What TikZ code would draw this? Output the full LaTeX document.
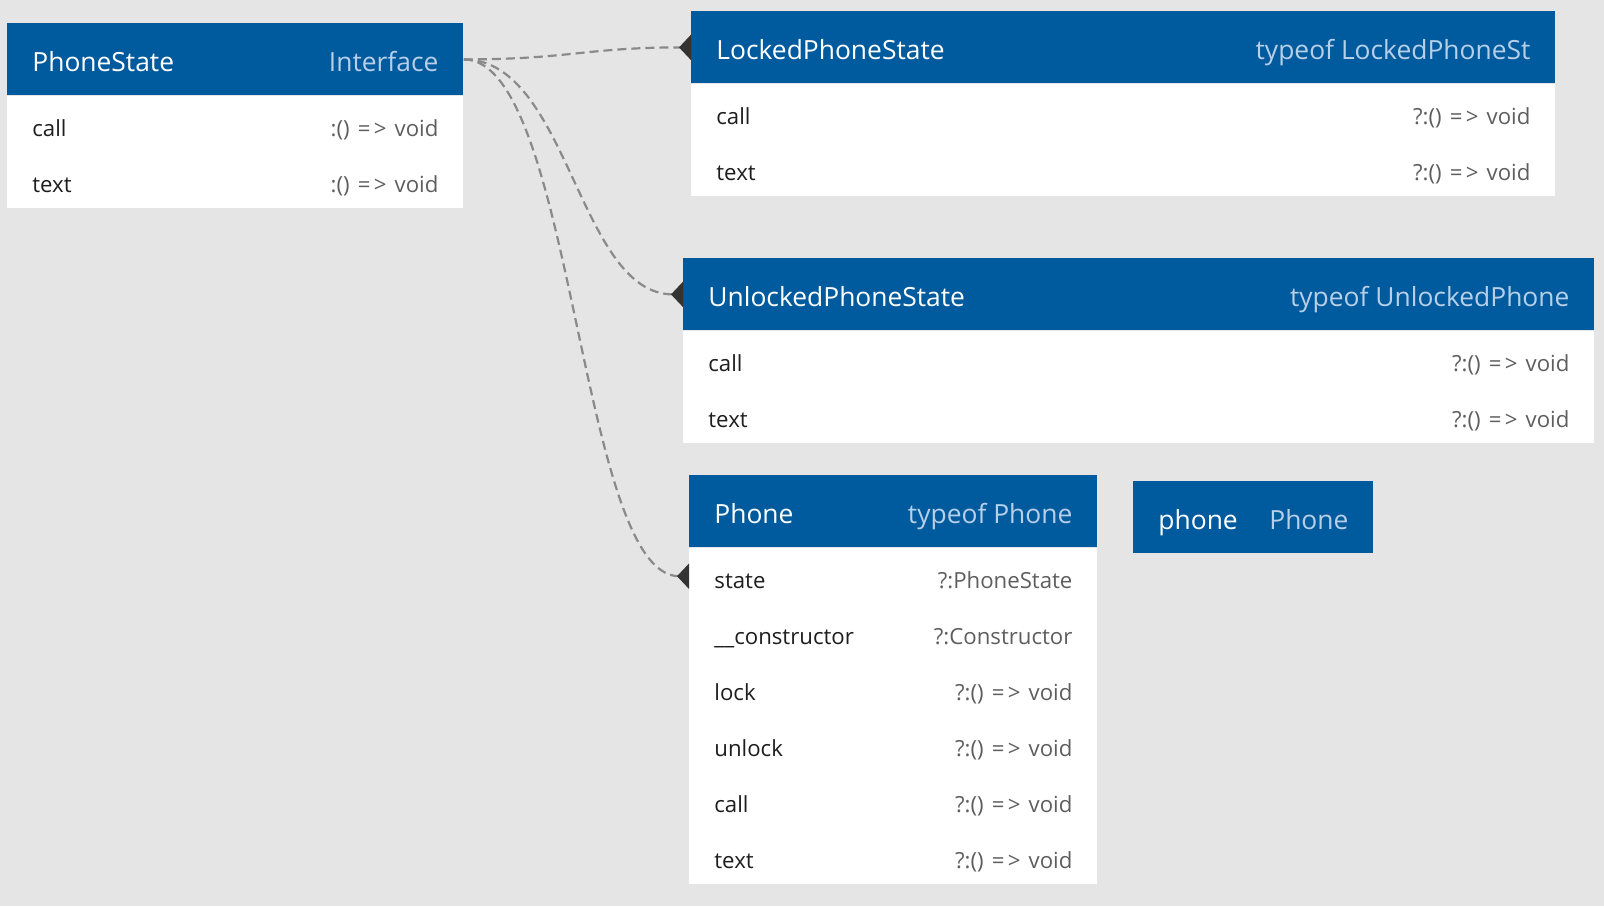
\documentclass[tikz,border=0pt]{standalone}
\usepackage{fontspec}
\setmainfont{Open Sans}
\usepackage{tikz}
\usetikzlibrary{positioning}
\usetikzlibrary{arrows.meta}

\definecolor{canvasgray}{HTML}{E5E5E5}
\definecolor{headblue}{HTML}{005A9E}
\definecolor{kindblue}{HTML}{B7CFE8}
\definecolor{fieldblack}{HTML}{1E1E1E}
\definecolor{typegray}{HTML}{5E5E5E}
\definecolor{linkgray}{HTML}{8A8A8A}
\definecolor{tipdark}{HTML}{333333}

\newcommand{\arrowfn}{\kern1.2pt=\kern1.6pt>\kern1.2pt}

\tikzset{
    headbar/.style={fill=headblue, anchor=north west, inner sep=0pt, minimum height=36pt},
    bodybox/.style={fill=white, anchor=north west, inner sep=0pt},
    rowbox/.style={anchor=north west, inner sep=0pt, minimum height=28pt},
    headname/.style={anchor=base west, text=white, inner sep=0pt,
        font=\fontsize{13.2}{15}\selectfont},
    headkind/.style={anchor=base east, text=kindblue, inner sep=0pt,
        font=\fontsize{13.2}{15}\selectfont},
    fieldname/.style={anchor=base west, text=fieldblack, inner sep=0pt,
        font=\fontsize{11.1}{13}\selectfont},
    fieldtype/.style={anchor=base east, text=typegray, inner sep=0pt,
        font=\fontsize{11.1}{13}\selectfont},
    linkline/.style={draw=linkgray, line width=1.1pt, dash pattern=on 4.5pt off 2.5pt,
        -{Triangle[reversed, length=6pt, width=12.5pt, color=tipdark]}}
}

\begin{document}
\begin{tikzpicture}[x=0.5pt, y=-0.5pt]
        \fill[canvasgray] (0,0) rectangle (1604,906);
        \useasboundingbox (0,0) rectangle (1604,906);

        % PhoneState
        \node[headbar, minimum width=228pt] (psh) at (7,23) {};
        \node[headname] at ([xshift=12.5pt, yshift=-6pt]psh.west) {PhoneState};
        \node[headkind] at ([xshift=-12.5pt, yshift=-6pt]psh.east) {Interface};
        \node[bodybox, minimum width=228pt, minimum height=56pt] (psb) at (psh.south west) {};
        \foreach \n/\t [count=\i] in {call/{:() \arrowfn{} void}, text/{:() \arrowfn{} void}}
        {
            \node[rowbox, minimum width=228pt] (ps\i) at ([yshift={-28pt*(\i-1)}]psb.north west) {};
            \node[fieldname] at ([xshift=12.5pt, yshift=-6pt]ps\i.west) {\n};
            \node[fieldtype] at ([xshift=-12.5pt, yshift=-6pt]ps\i.east) {\t};
        }

        % LockedPhoneState
        \node[headbar, minimum width=432pt] (lkh) at (691,11) {};
        \node[headname] at ([xshift=12.5pt, yshift=-6pt]lkh.west) {LockedPhoneState};
        \node[headkind] at ([xshift=-12.5pt, yshift=-6pt]lkh.east) {typeof LockedPhoneSt};
        \node[bodybox, minimum width=432pt, minimum height=56pt] (lkb) at (lkh.south west) {};
        \foreach \n/\t [count=\i] in {call/{?:() \arrowfn{} void}, text/{?:() \arrowfn{} void}}
        {
            \node[rowbox, minimum width=432pt] (lk\i) at ([yshift={-28pt*(\i-1)}]lkb.north west) {};
            \node[fieldname] at ([xshift=12.5pt, yshift=-6pt]lk\i.west) {\n};
            \node[fieldtype] at ([xshift=-12.5pt, yshift=-6pt]lk\i.east) {\t};
        }

        % UnlockedPhoneState
        \node[headbar, minimum width=455.5pt] (ulh) at (683,258) {};
        \node[headname] at ([xshift=12.5pt, yshift=-6pt]ulh.west) {UnlockedPhoneState};
        \node[headkind] at ([xshift=-12.5pt, yshift=-6pt]ulh.east) {typeof UnlockedPhone};
        \node[bodybox, minimum width=455.5pt, minimum height=56pt] (ulb) at (ulh.south west) {};
        \foreach \n/\t [count=\i] in {call/{?:() \arrowfn{} void}, text/{?:() \arrowfn{} void}}
        {
            \node[rowbox, minimum width=455.5pt] (ul\i) at ([yshift={-28pt*(\i-1)}]ulb.north west) {};
            \node[fieldname] at ([xshift=12.5pt, yshift=-6pt]ul\i.west) {\n};
            \node[fieldtype] at ([xshift=-12.5pt, yshift=-6pt]ul\i.east) {\t};
        }

        % Phone
        \node[headbar, minimum width=204pt] (phh) at (689,475) {};
        \node[headname] at ([xshift=12.5pt, yshift=-6pt]phh.west) {Phone};
        \node[headkind] at ([xshift=-12.5pt, yshift=-6pt]phh.east) {typeof Phone};
        \node[bodybox, minimum width=204pt, minimum height=168pt] (phb) at (phh.south west) {};
        \foreach \n/\t [count=\i] in {state/{?:PhoneState}, \_\_constructor/{?:Constructor},
            lock/{?:() \arrowfn{} void}, unlock/{?:() \arrowfn{} void},
            call/{?:() \arrowfn{} void}, text/{?:() \arrowfn{} void}}
        {
            \node[rowbox, minimum width=204pt] (ph\i) at ([yshift={-28pt*(\i-1)}]phb.north west) {};
            \node[fieldname] at ([xshift=12.5pt, yshift=-6pt]ph\i.west) {\n};
            \node[fieldtype] at ([xshift=-12.5pt, yshift=-6pt]ph\i.east) {\t};
        }

        % phone
        \node[headbar, minimum width=120pt] (pvh) at (1133,481) {};
        \node[headname] at ([xshift=12.5pt, yshift=-6pt]pvh.west) {phone};
        \node[headkind] at ([xshift=-12.5pt, yshift=-6pt]pvh.east) {Phone};

        % links
        \draw[linkline] (psh.east) .. controls +(105,0) and +(-105,0) .. (lkh.west);
        \draw[linkline] (psh.east) .. controls +(105,0) and +(-105,0) .. (ulh.west);
        \draw[linkline] (psh.east) .. controls +(110,0) and +(-110,0) .. (ph1.west);
\end{tikzpicture}
\end{document}
